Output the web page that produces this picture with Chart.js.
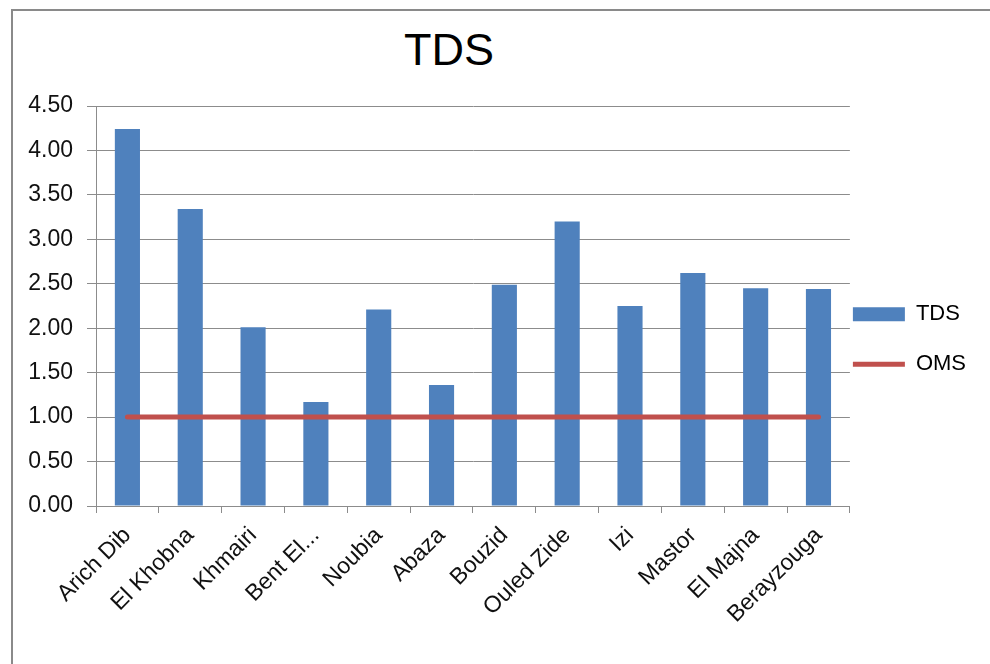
<!DOCTYPE html>
<html>
<head>
<meta charset="utf-8">
<script src="https://cdn.jsdelivr.net/npm/chart.js@4.4.1/dist/chart.umd.min.js"></script>
<style>
  body { margin: 0; background: #fff; }
  #wrap { position: relative; width: 990px; height: 664px; overflow: hidden; }
  #frame { position: absolute; left: 11px; top: 9px; width: 1000px; height: 700px; border: 2px solid #8a8a8a; }
  #title { position: absolute; left: 0; top: 24px; width: 898px; text-align: center;
    font: 45px "Liberation Sans", Arial, sans-serif; color: #000; }
  canvas { position: absolute; left: 0; top: 0; }
</style>
</head>
<body>
<div id="wrap">
  <div id="frame"></div>
  <div id="title">TDS</div>
  <canvas id="chart" width="990" height="664"></canvas>
</div>
<script>
const categories = ['Arich Dib', 'El Khobna', 'Khmairi', 'Bent El...', 'Noubia', 'Abaza',
  'Bouzid', 'Ouled Zide', 'Izi', 'Mastor', 'El Majna', 'Berayzouga']
const tdsValues = [4.24, 3.34, 2.01, 1.17, 2.21, 1.36, 2.49, 3.20, 2.25, 2.62, 2.45, 2.44]
const omsValues = [1, 1, 1, 1, 1, 1, 1, 1, 1, 1, 1, 1]

const font = { family: '"Liberation Sans", Arial, sans-serif', size: 23 }
const legendFont = { family: '"Liberation Sans", Arial, sans-serif', size: 22 }
const gridColor = '#8c8c8c'

const ctx = document.querySelector('#chart').getContext('2d')

new Chart(ctx, {
  data: {
    labels: categories,
    datasets: [
      {
        type: 'bar',
        label: 'TDS',
        data: tdsValues,
        backgroundColor: '#4F81BD',
        barPercentage: 0.4,
        categoryPercentage: 1,
        order: 1
      },
      {
        type: 'line',
        label: 'OMS',
        data: omsValues,
        borderColor: '#C0504D',
        backgroundColor: '#C0504D',
        borderWidth: 5,
        borderCapStyle: 'round',
        pointRadius: 0,
        order: 0
      }
    ]
  },
  options: {
    responsive: false,
    animation: false,
    layout: { padding: { left: 14, top: 106, right: 14, bottom: 0 } },
    plugins: {
      tooltip: { enabled: false },
      legend: {
        position: 'right',
        align: 'start',
        // empty title only pushes the entries down
        title: { display: true, text: '', font: { size: 1 }, padding: { top: 193, bottom: 0 } },
        labels: {
          font: legendFont,
          color: '#000',
          boxWidth: 52,
          boxHeight: 14,
          padding: 3,
          usePointStyle: true,
          pointStyleWidth: 52,
          generateLabels: (chart) => {
            const items = Chart.defaults.plugins.legend.labels.generateLabels(chart)
              .sort((a, b) => a.datasetIndex - b.datasetIndex)
            items.forEach(it => {
              if (it.text === 'OMS') { it.pointStyle = 'line'; it.lineWidth = 5; it.strokeStyle = '#C0504D' }
              else { it.pointStyle = 'rect'; it.lineWidth = 0 }
            })
            // blank gap between the two entries
            const gap = { text: '', fillStyle: 'rgba(0,0,0,0)', strokeStyle: 'rgba(0,0,0,0)',
              lineWidth: 0, pointStyle: 'rect', hidden: false, datasetIndex: -1 }
            return [items[0], gap, items[1]]
          }
        }
      }
    },
    scales: {
      x: {
        offset: true,
        grid: { offset: true, drawOnChartArea: false, color: gridColor, tickLength: 7 },
        border: { color: gridColor },
        ticks: { font: font, color: '#111', maxRotation: 45, minRotation: 45, autoSkip: false, padding: 9 },
        afterFit: (scale) => { scale.height = 158 }
      },
      y: {
        min: 0,
        max: 4.5,
        ticks: { stepSize: 0.5, font: font, color: '#111', padding: 14,
          callback: (v) => v.toFixed(2) },
        grid: { color: gridColor, tickLength: 9 },
        border: { color: gridColor },
        afterFit: (scale) => { scale.width = 82 }
      }
    }
  }
})
</script>
</body>
</html>
